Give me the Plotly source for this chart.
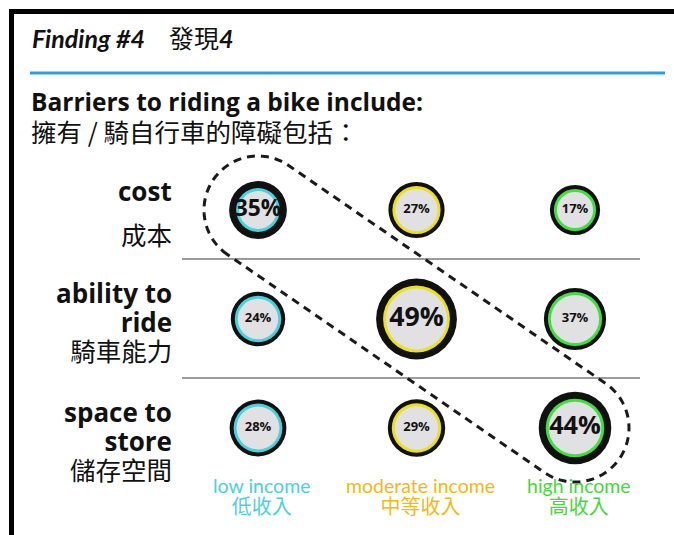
import numpy as np
import plotly.graph_objects as go

# ---------------- data ----------------
title_en = "Finding #4"
title_zh = "發現"
title_num = "4"
subtitle_en = "Barriers to riding a bike include:"
subtitle_zh = "擁有 / 騎自行車的障礙包括："
barriers_en = ["cost", "ability to ride", "space to store"]
barriers_zh = ["成本", "騎車能力", "儲存空間"]
groups_en = ["low income", "moderate income", "high income"]
groups_zh = ["低收入", "中等收入", "高收入"]
low_income = [35, 24, 28]
moderate_income = [27, 49, 29]
high_income = [17, 37, 44]

# ---------------- layout helpers ----------------
W, H = 674, 535
X0, DX = 258.0, 158.5   # pixel x of first column, column spacing
Y0, DY = 210.0, 109.0   # pixel y of first row, row spacing

def to_data(px, py):
    return (px - X0) / DX, (py - Y0) / DY

def paper(px, py):
    return dict(x=px / W, y=1 - py / H, xref="paper", yref="paper")

ring_colors = ["#45d4de", "#ece21a", "#3ee23e"]
label_colors = ["#4ecfdc", "#f4b816", "#48d640"]
series = [low_income, moderate_income, high_income]
vals = np.array(series, dtype=float)          # [col][row]
row_max = vals.max(axis=0)

LATIN = "Lato, 'Open Sans', 'Noto Sans CJK TC', sans-serif"
BOLD = "'Open Sans', Lato, 'Noto Sans CJK TC', sans-serif"
CJK = "'Noto Sans CJK TC', 'Noto Sans CJK SC', sans-serif"
MIX = "Lato, 'Noto Sans CJK TC', sans-serif"

fig = go.Figure()

# ---------------- bubbles ----------------
for c, v_list in enumerate(series):
    v = np.array(v_list, dtype=float)
    rows = np.arange(len(v))
    hl = v == row_max
    d = np.where(hl, 1.65 * v, 40 + 0.6 * v)
    bw = np.where(hl, 7, 4)
    cw = 3
    xs = np.full(len(v), c)
    for size, col in ((d, "#111111"),
                      (d - 2 * bw, ring_colors[c]),
                      (d - 2 * bw - 2 * cw, "#e1e1e3")):
        fig.add_trace(go.Scatter(x=xs, y=rows, mode="markers", hoverinfo="skip", opacity=1,
                                 marker=dict(size=size, color=col, opacity=1, line=dict(width=0)),
                                 showlegend=False))
    fsize = np.where(hl, 13 + 0.28 * v, 13)
    fig.add_trace(go.Scatter(x=xs, y=rows, mode="text", hoverinfo="skip",
                             text=[f"{int(x)}%" for x in v],
                             textposition="middle center",
                             textfont=dict(size=fsize, color="#111111", family=BOLD, weight="bold"),
                             showlegend=False))

# ---------------- dashed loop around the highlighted diagonal ----------------
first_col = int(np.argmax(vals[:, 0]))
last_col = int(np.argmax(vals[:, -1]))
P1 = np.array([X0 + DX * first_col, Y0])
P2 = np.array([X0 + DX * last_col, Y0 + DY * (vals.shape[1] - 1)])
R = 54.0
u = (P2 - P1) / np.linalg.norm(P2 - P1)
th = np.arctan2(u[1], u[0])
a1 = np.linspace(th + np.pi / 2, th + 3 * np.pi / 2, 60)
a2 = np.linspace(th - np.pi / 2, th + np.pi / 2, 60)
pts = [P1 + R * np.array([np.cos(a), np.sin(a)]) for a in a1]
pts += [P2 + R * np.array([np.cos(a), np.sin(a)]) for a in a2]
path_pts = [to_data(p[0], p[1]) for p in pts]
path = "M " + " L ".join(f"{x:.4f},{y:.4f}" for x, y in path_pts) + " Z"
shapes = [dict(type="path", path=path, xref="x", yref="y",
               line=dict(color="#1a1a1a", width=3, dash="8px,6px"), layer="above")]

# separators between rows
for sy in (259, 378):
    x_a, y_a = to_data(182, sy)
    x_b, _ = to_data(640, sy)
    shapes.append(dict(type="line", xref="x", yref="y", x0=x_a, x1=x_b, y0=y_a, y1=y_a,
                       line=dict(color="#7a7a7a", width=1.5), layer="below"))

# frame and blue rule
shapes.append(dict(type="line", xref="paper", yref="paper", x0=9 / W, x1=1, y0=1 - 11.5 / H, y1=1 - 11.5 / H,
                   line=dict(color="#000000", width=5)))
shapes.append(dict(type="line", xref="paper", yref="paper", x0=11.5 / W, x1=11.5 / W, y0=0, y1=1 - 9 / H,
                   line=dict(color="#000000", width=5)))
shapes.append(dict(type="line", xref="paper", yref="paper", x0=30 / W, x1=665 / W, y0=1 - 73 / H, y1=1 - 73 / H,
                   line=dict(color="#2b9fe2", width=3)))

# ---------------- text ----------------
ann = []
ann.append(dict(text=f"<b><i>{title_en}</i></b>", xanchor="left", yanchor="middle", showarrow=False,
                font=dict(size=25, color="#111", family=LATIN), **paper(30, 38)))
ann.append(dict(text=f"{title_zh}<b><i>{title_num}</i></b>", xanchor="left", yanchor="middle", showarrow=False,
                font=dict(size=25, color="#111", family=MIX), **paper(167, 38)))
ann.append(dict(text=f"<b>{subtitle_en}</b>", xanchor="left", yanchor="middle", showarrow=False,
                font=dict(size=24.5, color="#111", family=BOLD), **paper(29, 101)))
ann.append(dict(text=subtitle_zh, xanchor="left", yanchor="middle", showarrow=False,
                font=dict(size=25.5, color="#111", family=CJK), **paper(29, 130)))

# row labels: one text block per row
for r, (en, zh) in enumerate(zip(barriers_en, barriers_zh)):
    words = en.split()
    if len(words) == 1:
        ann.append(dict(text=f"<b>{en}</b>", xanchor="right", yanchor="middle", showarrow=False,
                        font=dict(size=26, color="#111", family=BOLD), **paper(174, 191)))
        ann.append(dict(text=zh, xanchor="right", yanchor="middle", showarrow=False,
                        font=dict(size=25.5, color="#111", family=CJK), **paper(174, 233)))
    else:
        l1, l2 = en.rsplit(" ", 1)
        txt = (f"<span style='font-size:26px'><b>{l1}</b></span><br>"
               f"<span style='font-size:26px'><b>{l2}</b></span><br>"
               f"<span style='font-size:25.5px;font-family:\"Noto Sans CJK TC\"'>{zh}</span>")
        cy = Y0 + DY * r + (2 if r == 1 else 12)
        ann.append(dict(text=txt, xanchor="right", yanchor="middle", align="right", showarrow=False,
                        font=dict(size=22.3, color="#111", family=BOLD), **paper(174, cy)))

# column labels: one text block per column
for c, (en, zh) in enumerate(zip(groups_en, groups_zh)):
    cx = X0 + DX * c + 4
    txt = (f"<span style='font-size:19.5px'>{en}</span><br>"
           f"<span style='font-size:20px;font-family:\"Noto Sans CJK TC\"'>{zh}</span>")
    ann.append(dict(text=txt, xanchor="center", yanchor="middle", align="center", showarrow=False,
                    font=dict(size=16.5, color=label_colors[c], family=LATIN), **paper(cx, 497)))

fig.update_layout(
    width=W, height=H, margin=dict(l=0, r=0, t=0, b=0),
    paper_bgcolor="white", plot_bgcolor="white",
    xaxis=dict(range=[-X0 / DX, (W - X0) / DX], visible=False, fixedrange=True),
    yaxis=dict(range=[(H - Y0) / DY, -Y0 / DY], visible=False, fixedrange=True),
    shapes=shapes, annotations=ann, showlegend=False,
)

fig.write_html("out.html", config={"displayModeBar": False},
               post_script="document.body.style.margin='0px';document.body.style.overflow='hidden';")
